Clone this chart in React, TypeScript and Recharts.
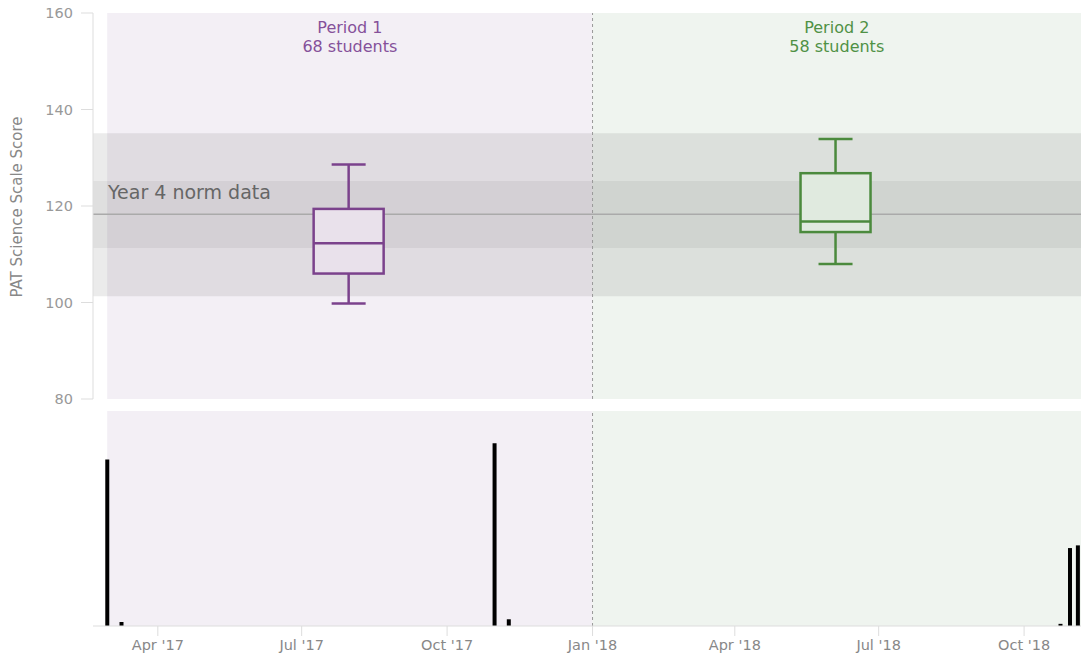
import { ComposedChart, Bar, XAxis, YAxis, ReferenceArea, ReferenceLine } from "recharts";

const d = (y: number, m: number, day: number) => Date.UTC(y, m - 1, day);

// time axis
const domainStart = d(2017, 2, 19);
const domainEnd = d(2018, 11, 6);
const tickDates = [d(2017, 4, 1), d(2017, 7, 1), d(2017, 10, 1), d(2018, 1, 1), d(2018, 4, 1), d(2018, 7, 1), d(2018, 10, 1)];
const tickLabels = ["Apr '17", "Jul '17", "Oct '17", "Jan '18", "Apr '18", "Jul '18", "Oct '18"];

// periods
const periodNames = ["Period 1", "Period 2"];
const periodStudents = [68, 58];
const periodStart = [d(2017, 2, 28), d(2018, 1, 1)];
const periodEnd = [d(2018, 1, 1), d(2018, 11, 6)];

// box plot per period
const boxDates = [d(2017, 7, 31), d(2018, 6, 4)];
const boxMin = [99.8, 108.0];
const boxQ1 = [106.0, 114.6];
const boxMedian = [112.3, 116.8];
const boxQ3 = [119.4, 126.8];
const boxMax = [128.6, 133.9];

// Year 4 norm band
const normLow = 101.3;
const normQ1 = 111.3;
const normMedian = 118.3;
const normQ3 = 125.2;
const normHigh = 135.1;

// tests taken per date
const testDates = [d(2017, 2, 28), d(2017, 3, 9), d(2017, 10, 31), d(2017, 11, 9), d(2018, 10, 24), d(2018, 10, 30), d(2018, 11, 4)];
const testCounts = [62, 1.5, 68, 2.5, 0.8, 29, 30];

const scoreTicks = [80, 100, 120, 140, 160];

const periodBg = ["#f3eff5", "#eff4ef"];
const boxStroke = ["#7b428c", "#4b8a3d"];
const boxFill = ["#e9e1eb", "#e0eadf"];
const textColor = ["#85519a", "#4f9145"];

const boxData = boxDates.map((date, i) => ({
    date, i,
    min: boxMin[i], q1: boxQ1[i], median: boxMedian[i], q3: boxQ3[i], max: boxMax[i],
}));
const testData = testDates.map((date, i) => ({ date, count: testCounts[i] }));

const fmtTick = (v: number) => {
    const idx = tickDates.indexOf(v);
    return idx >= 0 ? tickLabels[idx] : "";
};

const BoxShape = (props: any) => {
    const { x, y, width, height, payload } = props;
    const top = Math.min(y, y + height);
    const h = Math.abs(height);
    const py = (v: number) => top + ((payload.max - v) / (payload.max - payload.min)) * h;
    const cx = x + width / 2;
    const cap = 17;
    const stroke = boxStroke[payload.i];
    return (
        <g stroke={stroke} strokeWidth={2.5} fill="none">
            <line x1={cx} x2={cx} y1={py(payload.max)} y2={py(payload.q3)} />
            <line x1={cx} x2={cx} y1={py(payload.q1)} y2={py(payload.min)} />
            <line x1={cx - cap} x2={cx + cap} y1={py(payload.max)} y2={py(payload.max)} />
            <line x1={cx - cap} x2={cx + cap} y1={py(payload.min)} y2={py(payload.min)} />
            <rect x={x} y={py(payload.q3)} width={width} height={py(payload.q1) - py(payload.q3)} fill={boxFill[payload.i]} />
            <line x1={x} x2={x + width} y1={py(payload.median)} y2={py(payload.median)} />
        </g>
    );
};

const periodLabel = (i: number) => (props: any) => {
    const vb = props.viewBox || {};
    const cx = vb.x + vb.width / 2;
    return (
        <text x={cx} y={vb.y + 20} textAnchor="middle" fill={textColor[i]} fontSize={16}>
            <tspan x={cx}>{periodNames[i]}</tspan>
            <tspan x={cx} dy={19}>{periodStudents[i]} students</tspan>
        </text>
    );
};

const normLabel = (props: any) => {
    const vb = props.viewBox || {};
    return (
        <text x={vb.x + 15} y={vb.y + 18} fill="#666" fontSize={19}>
            Year 4 norm data
        </text>
    );
};

export default function App() {
    return (
        <div style={{ position: "relative", width: 1084, height: 661, fontFamily: "'DejaVu Sans', sans-serif", background: "#fff" }}>
            <style>{`body{margin:0}`}</style>
            <div style={{ position: "absolute", left: 0, top: 0 }}>
                <ComposedChart width={1084} height={410} data={boxData} margin={{ top: 13, right: 3, bottom: 11, left: 0 }}>
                    <XAxis type="number" dataKey="date" domain={[domainStart, domainEnd]} hide allowDataOverflow />
                    <YAxis
                        domain={[80, 160]}
                        ticks={scoreTicks}
                        interval={0}
                        width={93}
                        axisLine={{ stroke: "#ddd" }}
                        tickLine={{ stroke: "#ddd" }}
                        tickSize={12}
                        tickMargin={8}
                        tick={{ fill: "#999", fontSize: 14.5 }}
                        allowDataOverflow
                    />
                    {periodStart.map((s, i) => (
                        <ReferenceArea key={"p" + i} x1={s} x2={periodEnd[i]} fill={periodBg[i]} fillOpacity={1} stroke="none" label={periodLabel(i)} />
                    ))}
                    <ReferenceArea y1={normLow} y2={normHigh} fill="#000" fillOpacity={0.08} stroke="none" />
                    <ReferenceArea y1={normQ1} y2={normQ3} fill="#000" fillOpacity={0.05} stroke="none" label={normLabel} />
                    <ReferenceLine y={normMedian} stroke="#aaa" strokeWidth={1.5} />
                    <ReferenceLine x={periodStart[1]} stroke="#999" strokeDasharray="3 3" strokeWidth={1} />
                    <Bar dataKey={(e: any) => [e.min, e.max]} barSize={70} shape={(p: any) => <BoxShape {...p} />} zIndex={1500} isAnimationActive={false} />
                </ComposedChart>
            </div>
            <div style={{ position: "absolute", left: 0, top: 400 }}>
                <ComposedChart width={1084} height={261} data={testData} margin={{ top: 11, right: 3, bottom: 0, left: 93 }}>
                    <XAxis
                        type="number"
                        dataKey="date"
                        domain={[domainStart, domainEnd]}
                        ticks={tickDates}
                        tickFormatter={fmtTick}
                        height={35}
                        axisLine={{ stroke: "#ddd" }}
                        tickLine={{ stroke: "#ddd" }}
                        tickSize={10}
                        tickMargin={4}
                        tick={{ fill: "#888", fontSize: 14.5 }}
                        allowDataOverflow
                    />
                    <YAxis hide domain={[0, 80]} />
                    {periodStart.map((s, i) => (
                        <ReferenceArea key={"b" + i} x1={s} x2={periodEnd[i]} fill={periodBg[i]} fillOpacity={1} stroke="none" />
                    ))}
                    <ReferenceLine x={periodStart[1]} stroke="#999" strokeDasharray="3 3" strokeWidth={1} />
                    <Bar dataKey="count" fill="#000" barSize={4} isAnimationActive={false} />
                </ComposedChart>
            </div>
            <div
                style={{
                    position: "absolute",
                    left: 17,
                    top: 207,
                    transform: "translate(-50%, -50%) rotate(-90deg)",
                    whiteSpace: "nowrap",
                    fontSize: 15,
                    color: "#888",
                }}
            >
                PAT Science Scale Score
            </div>
        </div>
    );
}
